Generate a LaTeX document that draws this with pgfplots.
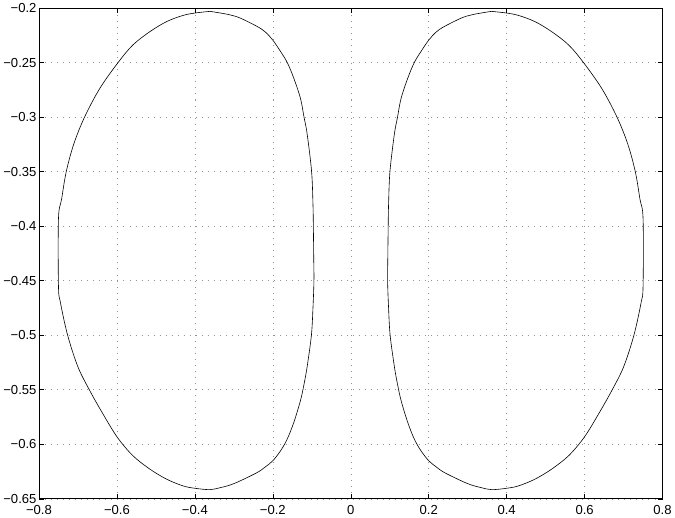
\documentclass[border=0pt]{standalone}
\usepackage{pgfplots}
\pgfplotsset{compat=1.18}
\usepackage{fontspec}
\setmainfont{Liberation Sans}

% left loop, traced clockwise from the top
\pgfplotstableread{
x y
-0.361 -0.2031
-0.335 -0.2046
-0.309 -0.2064
-0.284 -0.2092
-0.240 -0.2170
-0.219 -0.2221
-0.200 -0.2295
-0.180 -0.2400
-0.163 -0.2500
-0.146 -0.2646
-0.129 -0.2830
-0.120 -0.3000
-0.112 -0.3153
-0.1005 -0.3500
-0.097 -0.3800
-0.096 -0.4000
-0.095 -0.4300
-0.0945 -0.4500
-0.097 -0.4750
-0.101 -0.5000
-0.112 -0.5291
-0.120 -0.5450
-0.129 -0.5598
-0.146 -0.5798
-0.163 -0.5952
-0.180 -0.6059
-0.200 -0.6151
-0.219 -0.6207
-0.240 -0.6259
-0.284 -0.6336
-0.309 -0.6373
-0.335 -0.6398
-0.361 -0.6416
-0.399 -0.6404
-0.430 -0.6382
-0.472 -0.6321
-0.515 -0.6229
-0.559 -0.6105
-0.599 -0.5936
-0.636 -0.5721
-0.670 -0.5506
-0.700 -0.5291
-0.7265 -0.5000
-0.745 -0.4700
-0.750 -0.4550
-0.750 -0.3930
-0.742 -0.3753
-0.730 -0.3500
-0.7105 -0.3245
-0.683 -0.3000
-0.644 -0.2738
-0.597 -0.2500
-0.559 -0.2339
-0.515 -0.2216
-0.472 -0.2124
-0.430 -0.2068
-0.399 -0.2046
-0.361 -0.2031
}\leftloop

% right loop
\pgfplotstableread{
x y
0.361 -0.2031
0.335 -0.2046
0.309 -0.2064
0.284 -0.2092
0.240 -0.2170
0.219 -0.2221
0.200 -0.2295
0.180 -0.2400
0.163 -0.2500
0.146 -0.2646
0.129 -0.2830
0.120 -0.3000
0.112 -0.3153
0.1005 -0.3500
0.097 -0.3800
0.096 -0.4000
0.095 -0.4300
0.0945 -0.4500
0.097 -0.4750
0.101 -0.5000
0.112 -0.5291
0.120 -0.5450
0.129 -0.5598
0.146 -0.5798
0.163 -0.5952
0.180 -0.6059
0.200 -0.6151
0.219 -0.6207
0.240 -0.6259
0.284 -0.6336
0.309 -0.6373
0.335 -0.6398
0.361 -0.6416
0.399 -0.6404
0.430 -0.6382
0.472 -0.6321
0.515 -0.6229
0.559 -0.6105
0.599 -0.5936
0.636 -0.5721
0.670 -0.5506
0.700 -0.5291
0.7265 -0.5000
0.745 -0.4700
0.750 -0.4550
0.750 -0.3930
0.742 -0.3753
0.730 -0.3500
0.7105 -0.3245
0.683 -0.3000
0.644 -0.2738
0.597 -0.2500
0.559 -0.2339
0.515 -0.2216
0.472 -0.2124
0.430 -0.2068
0.399 -0.2046
0.361 -0.2031
}\rightloop

\begin{document}
\begin{tikzpicture}
\begin{axis}[
    scale only axis,
    width=620pt, height=488pt,
    xmin=-0.8, xmax=0.8,
    ymin=-0.65, ymax=-0.2,
    xtick={-0.8,-0.6,-0.4,-0.2,0,0.2,0.4,0.6,0.8},
    xticklabels={−0.8,−0.6,−0.4,−0.2,0,0.2,0.4,0.6,0.8},
    ytick={-0.65,-0.6,-0.55,-0.5,-0.45,-0.4,-0.35,-0.3,-0.25,-0.2},
    yticklabels={−0.65,−0.6,−0.55,−0.5,−0.45,−0.4,−0.35,−0.3,−0.25,−0.2},
    grid=major,
    major grid style={gray!85, line width=0.5pt, dash pattern=on 1pt off 5pt},
    tick align=inside,
    major tick length=5pt,
    axis line style={line width=0.6pt},
    tick style={black, line width=0.5pt},
    tick label style={font=\fontsize{13}{15}\selectfont},
    yticklabel style={xshift=1pt},
    xticklabel style={yshift=-3pt},
]
\addplot[black, line width=0.6pt, smooth, tension=0.55] table {\leftloop};
\addplot[black, line width=0.6pt, smooth, tension=0.55] table {\rightloop};
\end{axis}
\end{tikzpicture}
\end{document}
